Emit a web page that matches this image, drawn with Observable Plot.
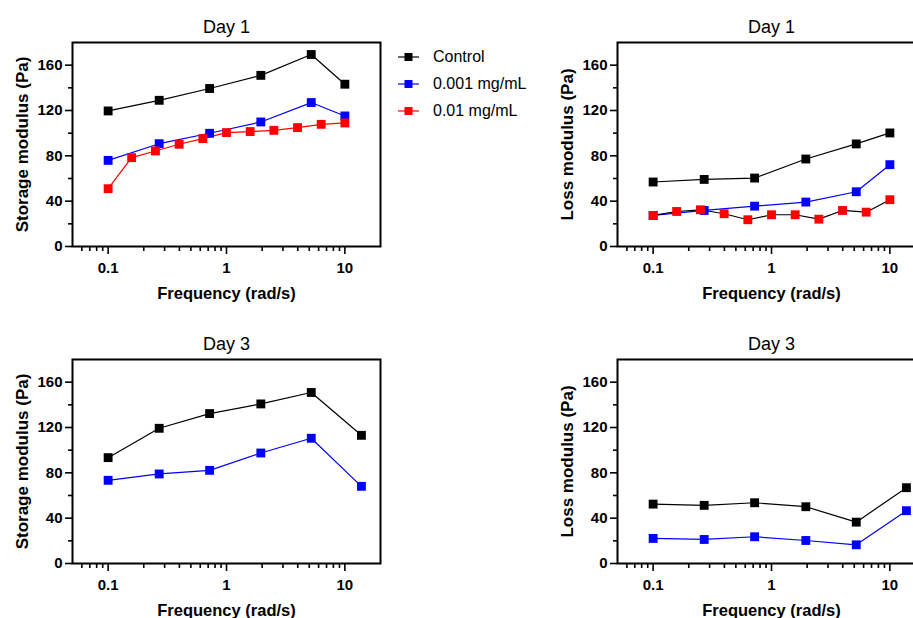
<!DOCTYPE html>
<html>
<head>
<meta charset="utf-8">
<script src="https://cdn.jsdelivr.net/npm/d3@7"></script>
<script src="https://cdn.jsdelivr.net/npm/@observablehq/plot@0.6"></script>
<style>
  html, body { margin: 0; padding: 0; background: #fff; }
  body { width: 913px; height: 618px; overflow: hidden; position: relative; font-family: "Liberation Sans", Arial, sans-serif; }
  .panel { position: absolute; width: 400px; height: 310px; }
  .panel svg { max-width: none !important; }
  #legend { position: absolute; left: 398px; top: 43px; font-size: 16px; color: #000; }
  .lrow { display: flex; align-items: center; height: 27px; }
  .lrow svg { margin-right: 14px; }
</style>
</head>
<body>
<div id="p1" class="panel" style="left:0px; top:0px"></div>
<div id="p2" class="panel" style="left:545px; top:0px"></div>
<div id="p3" class="panel" style="left:0px; top:317px"></div>
<div id="p4" class="panel" style="left:545px; top:317px"></div>
<div id="legend"></div>
<script>
// ---------- data ----------
const seriesNames = ["Control", "0.001 mg/mL", "0.01 mg/mL"];
const seriesColors = ["#000000", "#0000ff", "#ff0000"];

const freqDay1 = [0.1, 0.27, 0.72, 1.95, 5.2, 10];
const freqDay3 = [0.1, 0.27, 0.72, 1.95, 5.2, 13.8];
const freqHigh = [0.1, 0.158, 0.251, 0.398, 0.631, 1, 1.585, 2.512, 3.981, 6.31, 10];

const storageDay1Control = [119.6, 129, 139.4, 151, 169.4, 143.2];
const storageDay1Low = [76, 90.7, 99.9, 109.9, 127, 115.2];
const storageDay1High = [51, 78.4, 84.3, 90.2, 95.2, 100.5, 101.4, 102.5, 104.9, 107.8, 109];

const lossDay1Control = [56.9, 59.2, 60.4, 77.2, 90.5, 100.2];
const lossDay1Low = [27.4, 31.8, 35.6, 39.2, 48.3, 72.2];
const lossDay1High = [27.4, 30.9, 32.4, 28.9, 23.6, 28.0, 28.0, 24.1, 31.8, 30.3, 41.3];

const storageDay3Control = [93.4, 119.3, 132.3, 140.8, 150.9, 113.1];
const storageDay3Low = [73.4, 79, 82.2, 97.5, 110.5, 68.1];

const lossDay3Control = [52.4, 51.3, 53.6, 50.1, 36.5, 66.9];
const lossDay3Low = [22.1, 21.2, 23.6, 20.3, 16.5, 46.6];

const xMajorTicks = [0.1, 1, 10];
const xTickLabels = ["0.1", "1", "10"];
const xMinorTicks = [0.06, 0.07, 0.08, 0.09, 0.2, 0.3, 0.4, 0.5, 0.6, 0.7, 0.8, 0.9, 2, 3, 4, 5, 6, 7, 8, 9];
const yMajorTicks = [0, 40, 80, 120, 160];
const yTickLabels = ["0", "40", "80", "120", "160"];
const yMinorTicks = [20, 60, 100, 140];

const xLabel = "Frequency (rad/s)";
const yLabelStorage = "Storage modulus (Pa)";
const yLabelLoss = "Loss modulus (Pa)";

// ---------- drawing ----------
const FONT = '"Liberation Sans", Arial, sans-serif';

function group(name, freq, values, lineColor) {
  const i = seriesNames.indexOf(name);
  return {
    color: seriesColors[i],
    lineColor: lineColor || seriesColors[i],
    rows: freq.map((f, k) => ({f, v: values[k]}))
  };
}

function panel(title, yLabel, groups) {
  const marks = [];
  for (const g of groups) {
    marks.push(Plot.line(g.rows, {x: "f", y: "v", stroke: g.lineColor, strokeWidth: 1.2}));
  }
  for (const g of groups) {
    marks.push(Plot.dot(g.rows, {x: "f", y: "v", symbol: "square", r: 5, fill: g.color, stroke: "none"}));
  }
  marks.push(
    Plot.frame({stroke: "#000", strokeWidth: 2}),
    Plot.axisX({ticks: xMajorTicks, tickSize: 8, tickPadding: 8, strokeWidth: 1.6, label: null,
      tickFormat: d => xTickLabels[xMajorTicks.indexOf(d)], fontSize: 15, fontWeight: "bold"}),
    Plot.axisX({ticks: xMinorTicks, tickSize: 5, strokeWidth: 1.6, label: null, tickFormat: () => ""}),
    Plot.axisY({ticks: yMajorTicks, tickSize: 7, tickPadding: 3, strokeWidth: 1.6, label: null,
      tickFormat: d => yTickLabels[yMajorTicks.indexOf(d)], fontSize: 15, fontWeight: "bold"}),
    Plot.axisY({ticks: yMinorTicks, tickSize: 4, strokeWidth: 1.6, label: null, tickFormat: () => ""}),
    Plot.text([title], {frameAnchor: "top", dy: -15, lineAnchor: "middle", textAnchor: "middle", fontSize: 18, fontWeight: "normal"}),
    Plot.text([xLabel], {frameAnchor: "bottom", dy: 47, lineAnchor: "middle", textAnchor: "middle", fontSize: 16.5, fontWeight: "bold"}),
    Plot.text([yLabel], {frameAnchor: "left", dx: -50, rotate: -90, lineAnchor: "middle", textAnchor: "middle", fontSize: 17, fontWeight: "bold"})
  );
  return Plot.plot({
    width: 400,
    height: 310,
    marginLeft: 72,
    marginRight: 20,
    marginTop: 42,
    marginBottom: 64,
    style: {fontFamily: FONT, color: "#000", background: "transparent", overflow: "visible", maxWidth: "none"},
    x: {type: "log", domain: [0.05, 20]},
    y: {domain: [0, 180]},
    marks
  });
}

document.getElementById("p1").append(panel("Day 1", yLabelStorage, [
  group("Control", freqDay1, storageDay1Control),
  group("0.001 mg/mL", freqDay1, storageDay1Low),
  group("0.01 mg/mL", freqHigh, storageDay1High)
]));
document.getElementById("p2").append(panel("Day 1", yLabelLoss, [
  group("Control", freqDay1, lossDay1Control),
  group("0.001 mg/mL", freqDay1, lossDay1Low),
  group("0.01 mg/mL", freqHigh, lossDay1High, "#000000")
]));
document.getElementById("p3").append(panel("Day 3", yLabelStorage, [
  group("Control", freqDay3, storageDay3Control),
  group("0.001 mg/mL", freqDay3, storageDay3Low)
]));
document.getElementById("p4").append(panel("Day 3", yLabelLoss, [
  group("Control", freqDay3, lossDay3Control),
  group("0.001 mg/mL", freqDay3, lossDay3Low)
]));

// legend
const legend = document.getElementById("legend");
seriesNames.forEach((name, i) => {
  const row = document.createElement("div");
  row.className = "lrow";
  const c = seriesColors[i];
  row.innerHTML = `<svg width="21" height="10"><line x1="0" x2="21" y1="5" y2="5" stroke="${c}" stroke-width="1.2"/><rect x="6.5" y="1" width="8" height="8" fill="${c}"/></svg><span>${name}</span>`;
  legend.append(row);
});
</script>
</body>
</html>
